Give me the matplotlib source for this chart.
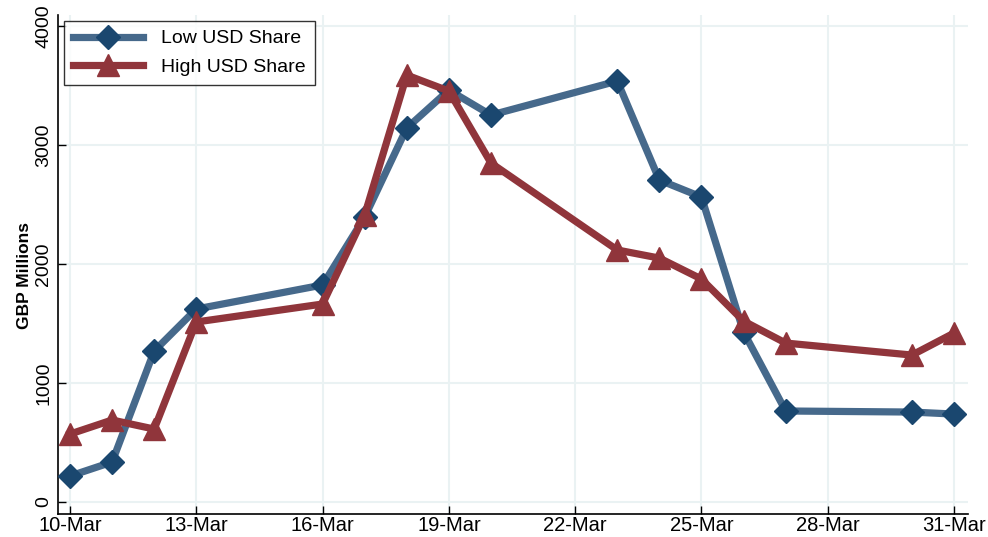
import numpy as np
import pandas as pd
import matplotlib
matplotlib.use("Agg")
import matplotlib.pyplot as plt
import matplotlib.dates as mdates

plt.rcParams['font.family'] = ['Liberation Sans', 'DejaVu Sans']

dates = pd.to_datetime(["2020-03-10", "2020-03-11", "2020-03-12", "2020-03-13",
                        "2020-03-16", "2020-03-17", "2020-03-18", "2020-03-19",
                        "2020-03-20", "2020-03-23", "2020-03-24", "2020-03-25",
                        "2020-03-26", "2020-03-27", "2020-03-30", "2020-03-31"])
low_usd = [218, 336, 1269, 1622, 1824, 2395, 3143, 3462,
           3252, 3538, 2706, 2563, 1429, 765, 756, 739]
high_usd = [571, 689, 613, 1513, 1664, 2412, 3588, 3454,
            2849, 2118, 2050, 1874, 1521, 1336, 1235, 1420]
tick_dates = pd.date_range("2020-03-10", "2020-03-31", freq="3D")
y_ticks = [0, 1000, 2000, 3000, 4000]

fig = plt.figure(figsize=(9.88, 5.37), dpi=100)
ax = fig.add_axes([0.0587, 0.0428, 0.921, 0.929])

ax.plot(dates, low_usd, color='#46698b', lw=5.2, marker='D', ms=12,
        mfc='#1a476f', mec='#1a476f', label='Low USD Share', zorder=3)
ax.plot(dates, high_usd, color='#90353b', lw=5.2, marker='^', ms=16,
        mfc='#90353b', mec='#90353b', label='High USD Share', zorder=3)

start = pd.Timestamp("2020-03-10")
ax.set_xlim(start - pd.Timedelta(days=0.285), start + pd.Timedelta(days=21.33))
ax.set_ylim(-101, 4092)

ax.set_xticks(tick_dates)
ax.xaxis.set_major_formatter(mdates.DateFormatter('%d-%b'))
ax.set_yticks(y_ticks)
ax.tick_params(axis='x', labelsize=14.5, direction='in', length=5.5, width=1, pad=1.5)
ax.tick_params(axis='y', labelsize=14, direction='in', length=5.5, width=1, pad=4)
for lab in ax.get_yticklabels():
    lab.set_rotation(90)
    lab.set_va('center')

ax.grid(True, color='#eaf2f3', lw=1.5, zorder=0)
ax.set_axisbelow(True)
for s in ['top', 'right']:
    ax.spines[s].set_visible(False)
for s in ['left', 'bottom']:
    ax.spines[s].set_linewidth(1.2)

ax.set_ylabel('GBP Millions', fontsize=12.5, fontweight='bold')
ax.yaxis.set_label_coords(-0.0286, 0.479)

leg = ax.legend(loc='upper left', fontsize=14, frameon=True, fancybox=False,
                edgecolor='black', handlelength=3.6, borderpad=0.45,
                labelspacing=0.55, handletextpad=0.95, borderaxespad=0,
                bbox_to_anchor=(0.0066, 0.988))
leg.get_frame().set_linewidth(1.0)

fig.savefig('out.png', dpi=100)
